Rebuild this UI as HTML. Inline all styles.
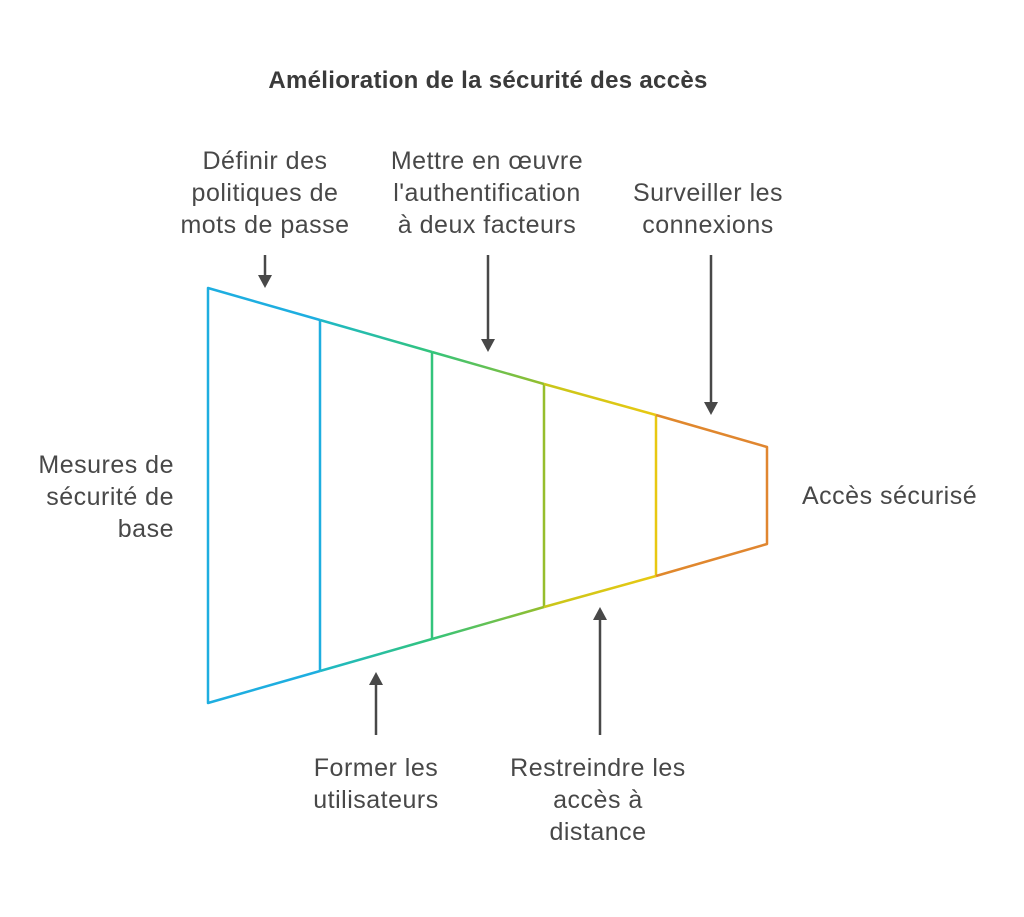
<!DOCTYPE html>
<html><head><meta charset="utf-8"><style>
body{margin:0;background:#fff;}
svg text{font-family:"Liberation Sans",Arial,sans-serif;fill:#484848;font-size:25px;letter-spacing:0.5px;}
</style></head><body>
<svg width="1024" height="912" xmlns="http://www.w3.org/2000/svg">
<defs>
<linearGradient id="g1" gradientUnits="userSpaceOnUse" x1="208" x2="320" y1="0" y2="0"><stop offset="0" stop-color="#1EAEE0"/><stop offset="1" stop-color="#1EAEE0"/></linearGradient>
<linearGradient id="g2" gradientUnits="userSpaceOnUse" x1="320" x2="432" y1="0" y2="0"><stop offset="0" stop-color="#1EB8C8"/><stop offset="1" stop-color="#33C47C"/></linearGradient>
<linearGradient id="g3" gradientUnits="userSpaceOnUse" x1="432" x2="544" y1="0" y2="0"><stop offset="0" stop-color="#33C47C"/><stop offset="1" stop-color="#96BE2C"/></linearGradient>
<linearGradient id="g4" gradientUnits="userSpaceOnUse" x1="544" x2="656" y1="0" y2="0"><stop offset="0" stop-color="#C8C61A"/><stop offset="1" stop-color="#E8C812"/></linearGradient>
<linearGradient id="g5" gradientUnits="userSpaceOnUse" x1="656" x2="767" y1="0" y2="0"><stop offset="0" stop-color="#E0882C"/><stop offset="1" stop-color="#E08630"/></linearGradient>
</defs>
<g fill="none" stroke-width="2.5" stroke-linejoin="round">
<polyline points="320,320 208,288 208,703 320,671" stroke="url(#g1)"/>
<line x1="320" y1="320" x2="320" y2="671" stroke="#1EAEE0"/>
<line x1="320" y1="320" x2="432" y2="352" stroke="url(#g2)"/>
<line x1="320" y1="671" x2="432" y2="639" stroke="url(#g2)"/>
<line x1="432" y1="352" x2="432" y2="639" stroke="#33C47C"/>
<line x1="432" y1="352" x2="544" y2="384" stroke="url(#g3)"/>
<line x1="432" y1="639" x2="544" y2="607" stroke="url(#g3)"/>
<line x1="544" y1="384" x2="544" y2="607" stroke="#96BE2C"/>
<line x1="544" y1="384" x2="656" y2="415" stroke="url(#g4)"/>
<line x1="544" y1="607" x2="656" y2="576" stroke="url(#g4)"/>
<line x1="656" y1="415" x2="656" y2="576" stroke="#E8C812"/>
<polyline points="656,415 767,447 767,544 656,576" stroke="url(#g5)"/>
</g>
<g stroke="#484848" stroke-width="2.5" fill="#484848">
<line x1="265" y1="255" x2="265" y2="278"/><polygon points="258,275 272,275 265,288" stroke="none"/>
<line x1="488" y1="255" x2="488" y2="342"/><polygon points="481,339 495,339 488,352" stroke="none"/>
<line x1="711" y1="255" x2="711" y2="405"/><polygon points="704,402 718,402 711,415" stroke="none"/>
<line x1="376" y1="735" x2="376" y2="682"/><polygon points="369,685 383,685 376,672" stroke="none"/>
<line x1="600" y1="735" x2="600" y2="617"/><polygon points="593,620 607,620 600,607" stroke="none"/>
</g>
<text x="488" y="88" text-anchor="middle" style="font-weight:bold;font-size:24px;letter-spacing:0.3px;fill:#3a3a3a">Amélioration de la sécurité des accès</text>
<g text-anchor="middle">
<text x="265" y="169">Définir des</text><text x="265" y="201">politiques de</text><text x="265" y="233">mots de passe</text>
<text x="487" y="169">Mettre en œuvre</text><text x="487" y="201">l'authentification</text><text x="487" y="233">à deux facteurs</text>
<text x="708" y="201">Surveiller les</text><text x="708" y="233">connexions</text>
<text x="376" y="776">Former les</text><text x="376" y="808">utilisateurs</text>
<text x="598" y="776">Restreindre les</text><text x="598" y="808">accès à</text><text x="598" y="840">distance</text>
</g>
<g text-anchor="end">
<text x="174" y="473">Mesures de</text><text x="174" y="505">sécurité de</text><text x="174" y="537">base</text>
</g>
<text x="802" y="504">Accès sécurisé</text>
</svg>
</body></html>
